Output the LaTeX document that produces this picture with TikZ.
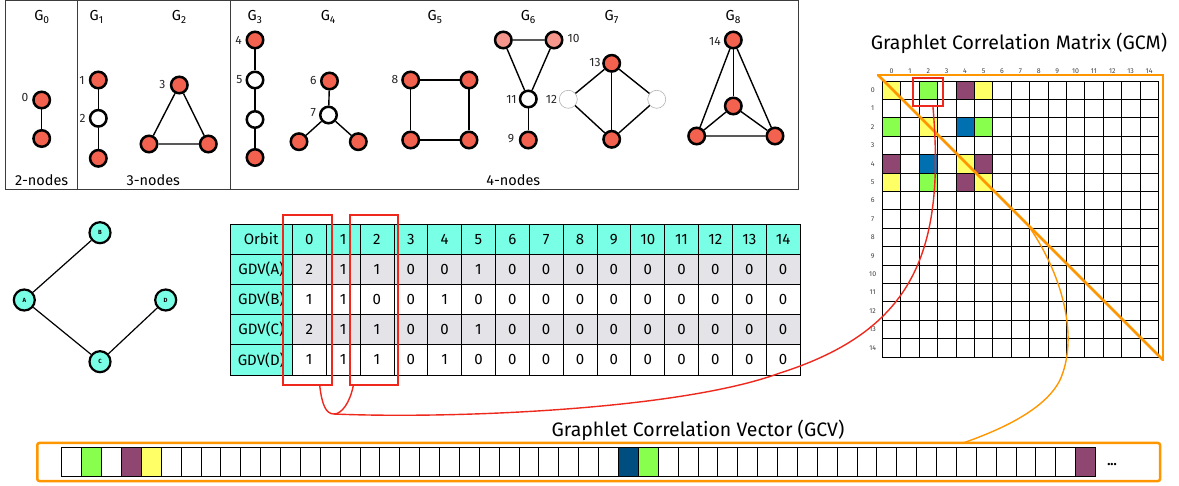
\documentclass[tikz,border=0pt]{standalone}
\usepackage{fontspec}
\setmainfont{Fira Sans}
\definecolor{nodered}{RGB}{243,98,78}
\definecolor{nodepink}{RGB}{244,150,140}
\definecolor{aqua}{RGB}{120,255,230}
\definecolor{rowgray}{RGB}{228,228,232}
\definecolor{cyel}{RGB}{255,255,102}
\definecolor{cgreen}{RGB}{137,255,77}
\definecolor{cpurple}{RGB}{143,70,112}
\definecolor{cblue}{RGB}{0,112,176}
\definecolor{cdblue}{RGB}{0,78,128}
\definecolor{corange}{RGB}{255,150,0}
\definecolor{cred}{RGB}{238,40,28}
\definecolor{boxgray}{RGB}{60,60,60}
\begin{document}
\begin{tikzpicture}[x=1pt,y=-1pt,
  rnode/.style={circle,draw=black,line width=2.5pt,fill=nodered,minimum size=16.5pt,inner sep=0pt},
  wnode/.style={rnode,fill=white},
  pnode/.style={rnode,fill=nodepink},
  gnode/.style={circle,draw=black!30,line width=0.6pt,fill=white,minimum size=18pt,inner sep=0pt},
  edge/.style={line width=1.4pt},
  nlab/.style={font=\fontsize{12}{12}\selectfont,inner sep=0pt,text=black!85},
  glab/.style={font=\fontsize{14.5}{14.5}\selectfont,inner sep=0pt},
  boxline/.style={draw=boxgray,line width=0.9pt},
  tcell/.style={draw=black,line width=0.7pt,minimum width=33.85pt,minimum height=30.2pt,inner sep=0pt,font=\fontsize{15}{15}\selectfont},
  lcell/.style={tcell,fill=aqua,minimum width=62.3pt},
  colbox/.style={draw=cred,line width=2.2pt,inner sep=0pt},
  mcell/.style={draw=black,line width=0.6pt,minimum size=18.4pt,inner sep=0pt},
  mfill/.style={fill=#1,minimum size=18.4pt,inner sep=0pt},
  mlab/.style={font=\fontsize{7}{7}\selectfont,inner sep=0pt,text=black!75},
  oline/.style={draw=corange,line width=2.5pt,line cap=round},
  cline/.style={draw=cred,line width=1.4pt},
  ocurve/.style={draw=corange,line width=1.4pt},
  vcell/.style={draw=black,line width=0.7pt,minimum width=19.88pt,minimum height=28.7pt,inner sep=0pt},
  abcnode/.style={circle,draw=black,line width=2.2pt,fill=aqua,minimum size=21pt,inner sep=0pt,font=\fontsize{6}{6}\selectfont\bfseries},
  ttl/.style={font=\fontsize{19.5}{19.5}\selectfont,inner sep=0pt}
]
\useasboundingbox (0,0) rectangle (1179,486);

% ---------- graphlet box ----------
\draw[boxline] (5,0.8) rectangle (798,189);
\draw[boxline] (77.3,0.8) -- (77.3,189);
\draw[boxline] (230,0.8) -- (230,189);

% G0
\node[glab] (G0) at (42,17) {G\textsubscript{0}};
\node[rnode] (g0a) at (41.7,100) {};
\node[rnode] (g0b) at (41.7,138.5) {};
\draw[edge] (g0a) -- (g0b);
\node[nlab] (l0) at (25,98) {0};
\node[glab] (t2n) at (41.7,180) {2-nodes};

% G1
\node[glab] (G1) at (96.7,17) {G\textsubscript{1}};
\node[rnode] (g1a) at (98.3,80) {};
\node[wnode] (g1b) at (98.3,118.3) {};
\node[rnode] (g1c) at (98.3,158.3) {};
\draw[edge] (g1a) -- (g1b) -- (g1c);
\node[nlab] (l1) at (82,80) {1};
\node[nlab] (l2) at (82.5,118.5) {2};

% G2
\node[glab] (G2) at (179.3,17) {G\textsubscript{2}};
\node[rnode] (g2a) at (179.3,85) {};
\node[rnode] (g2b) at (149,144) {};
\node[rnode] (g2c) at (208.3,144) {};
\draw[edge] (g2a) -- (g2b) -- (g2c) -- (g2a);
\node[nlab] (l3) at (162.3,85) {3};
\node[glab] (t3n) at (153.3,180) {3-nodes};

% G3
\node[glab] (G3) at (255,17) {G\textsubscript{3}};
\node[rnode] (g3a) at (255,40) {};
\node[wnode] (g3b) at (255,80) {};
\node[wnode] (g3c) at (255,119.5) {};
\node[rnode] (g3d) at (255,157.5) {};
\draw[edge] (g3a) -- (g3b) -- (g3c) -- (g3d);
\node[nlab] (l4) at (238.5,40) {4};
\node[nlab] (l5) at (239.5,80) {5};

% G4
\node[glab] (G4) at (328.3,17) {G\textsubscript{4}};
\node[rnode] (g4a) at (329.5,81) {};
\node[wnode] (g4b) at (328.5,115) {};
\node[rnode] (g4c) at (299,141.7) {};
\node[rnode] (g4d) at (358.3,141.7) {};
\draw[edge] (g4a) -- (g4b) -- (g4c);
\draw[edge] (g4b) -- (g4d);
\node[nlab] (l6) at (313.3,81) {6};
\node[nlab] (l7) at (313.3,113) {7};

% G5
\node[glab] (G5) at (435,17) {G\textsubscript{5}};
\node[rnode] (g5a) at (410.7,80) {};
\node[rnode] (g5b) at (469,80) {};
\node[rnode] (g5c) at (410.7,140) {};
\node[rnode] (g5d) at (469,140) {};
\draw[edge] (g5a) -- (g5b) -- (g5d) -- (g5c) -- (g5a);
\node[nlab] (l8) at (395,80) {8};

% G6
\node[glab] (G6) at (528.3,17) {G\textsubscript{6}};
\node[pnode] (g6a) at (503.3,40) {};
\node[pnode] (g6b) at (554,40) {};
\node[wnode] (g6c) at (528.3,99) {};
\node[rnode] (g6d) at (528.3,140) {};
\draw[edge] (g6a) -- (g6b) -- (g6c) -- (g6a);
\draw[edge] (g6c) -- (g6d);
\node[nlab] (l10) at (573.5,39) {10};
\node[nlab] (l11) at (511.5,99) {11};
\node[nlab] (l9) at (511,139) {9};
\node[glab] (t4n) at (513.3,180) {4-nodes};

% G7
\node[glab] (G7) at (611.7,17) {G\textsubscript{7}};
\node[rnode] (g7a) at (611.7,63.3) {};
\node[gnode] (g7b) at (568.3,99.3) {};
\node[gnode] (g7c) at (656.7,99.3) {};
\node[rnode] (g7d) at (611.7,139.3) {};
\draw[edge] (g7a) -- (g7b) -- (g7d) -- (g7c) -- (g7a);
\draw[edge] (g7a) -- (g7d);
\node[nlab] (l13) at (595,63) {13};
\node[nlab] (l12) at (551.5,99) {12};

% G8
\node[glab] (G8) at (733.3,17) {G\textsubscript{8}};
\node[rnode] (g8a) at (733.3,40) {};
\node[rnode] (g8b) at (733.3,106) {};
\node[rnode] (g8c) at (696.7,136) {};
\node[rnode] (g8d) at (775,136) {};
\draw[edge] (g8a) -- (g8b);
\draw[edge] (g8a) -- (g8c) -- (g8d) -- (g8a);
\draw[edge] (g8b) -- (g8c);
\draw[edge] (g8b) -- (g8d);
\node[nlab] (l14) at (715,41) {14};

% ---------- ABCD graph ----------
\node[abcnode] (nB) at (100,232.7) {B};
\node[abcnode] (nA) at (24.3,300) {A};
\node[abcnode] (nD) at (165.7,300) {D};
\node[abcnode] (nC) at (100,361.7) {C};
\draw[line width=1.2pt] (nA) -- (nB);
\draw[line width=1.2pt] (nA) -- (nC);
\draw[line width=1.2pt] (nC) -- (nD);

% ---------- GDV table ----------
\foreach \r/\lab/\fc in {0/Orbit/aqua,1/GDV(A)/aqua,2/GDV(B)/aqua,3/GDV(C)/aqua,4/GDV(D)/aqua}{
  \node[lcell] (tl\r) at (261.15,{224+(\r+0.5)*30.2}) {\lab};
}
\foreach \r/\vals/\fc in {0/{0,1,2,3,4,5,6,7,8,9,10,11,12,13,14}/aqua,
                          1/{2,1,1,0,0,1,0,0,0,0,0,0,0,0,0}/rowgray,
                          2/{1,1,0,0,1,0,0,0,0,0,0,0,0,0,0}/white,
                          3/{2,1,1,0,0,1,0,0,0,0,0,0,0,0,0}/rowgray,
                          4/{1,1,1,0,1,0,0,0,0,0,0,0,0,0,0}/white}{
  \foreach \v [count=\c from 0] in \vals {
    \node[tcell,fill=\fc] (t\r-\c) at ({292.3+(\c+0.5)*33.85},{224+(\r+0.5)*30.2}) {\v};
  }
}
\node[colbox,minimum width=49pt,minimum height=170pt] (cb0) at (307.8,300) {};
\node[colbox,minimum width=48.3pt,minimum height=170pt] (cb2) at (374.2,300) {};

% ---------- GCM ----------
\node[ttl] (gcmtitle) at (1019,43) {Graphlet Correlation Matrix (GCM)};
\foreach \r/\c/\col in {0/0/cyel,0/2/cgreen,0/4/cpurple,0/5/cyel,
                        2/0/cgreen,2/2/cyel,2/4/cblue,2/5/cgreen,
                        4/0/cpurple,4/2/cblue,4/4/cyel,4/5/cpurple,
                        5/0/cyel,5/2/cgreen,5/4/cpurple,5/5/cyel}{
  \node[mfill=\col] (mf\r-\c) at ({882.3+(\c+0.5)*18.4},{81+(\r+0.5)*18.4}) {};
}
\foreach \r in {0,...,14}{
  \foreach \c in {0,...,14}{
    \node[mcell] (m\r-\c) at ({882.3+(\c+0.5)*18.4},{81+(\r+0.5)*18.4}) {};
  }
}
\foreach \i in {0,...,14}{
  \node[mlab] (mc\i) at ({882.3+(\i+0.5)*18.4},71.5) {\i};
  \node[mlab] (mr\i) at (872.7,{81+(\i+0.5)*18.4}) {\i};
}
\coordinate (otl) at (878,75);
\coordinate (otr) at (1163,75);
\coordinate (obr) at (1163,360);
\draw[oline] (otl) -- (otr) -- (obr);
\draw[oline] (otl) -- (obr);
\node[colbox,minimum width=30.6pt,minimum height=27.7pt] (gcmbox) at (928,92.2) {};

% ---------- GCV ----------
\node[ttl] (gcvtitle) at (698,430) {Graphlet Correlation Vector (GCV)};
\node[draw=corange,line width=2.5pt,rounded corners=2pt,minimum width=1122.7pt,minimum height=38pt,inner sep=0pt] (gcvframe) at (598.65,462) {};
\foreach \i in {0,...,51}{
  \node[vcell] (v\i) at ({61.7+(\i+0.5)*19.88},461.65) {};
}
\foreach \i/\col in {1/cgreen,3/cpurple,4/cyel,28/cdblue,29/cgreen,51/cpurple}{
  \node[vcell,fill=\col] (vf\i) at ({61.7+(\i+0.5)*19.88},461.65) {};
}
\node[font=\fontsize{13}{13}\selectfont\bfseries,inner sep=0pt] (dots) at (1112,465) {...};

% ---------- connectors ----------
\coordinate (merge) at (334,414);
\draw[cline] ([xshift=12pt]cb0.south) .. controls (322,405) and (326,414) .. (merge);
\draw[cline] ([xshift=-21pt]cb2.south) .. controls (350,402) and (342,414) .. (merge);
\draw[cline] (merge) .. controls (450,419) and (680,410) .. (780,373)
   .. controls (915,330) and (945,250) .. ([xshift=5pt]gcmbox.south);
\coordinate (dg) at (1030,228);
\coordinate (gcvin) at (963,443);
\draw[ocurve] (dg) .. controls (1065,280) and (1078,340) .. (1060,380)
   .. controls (1045,410) and (1000,430) .. (gcvin);
\end{tikzpicture}
\end{document}
